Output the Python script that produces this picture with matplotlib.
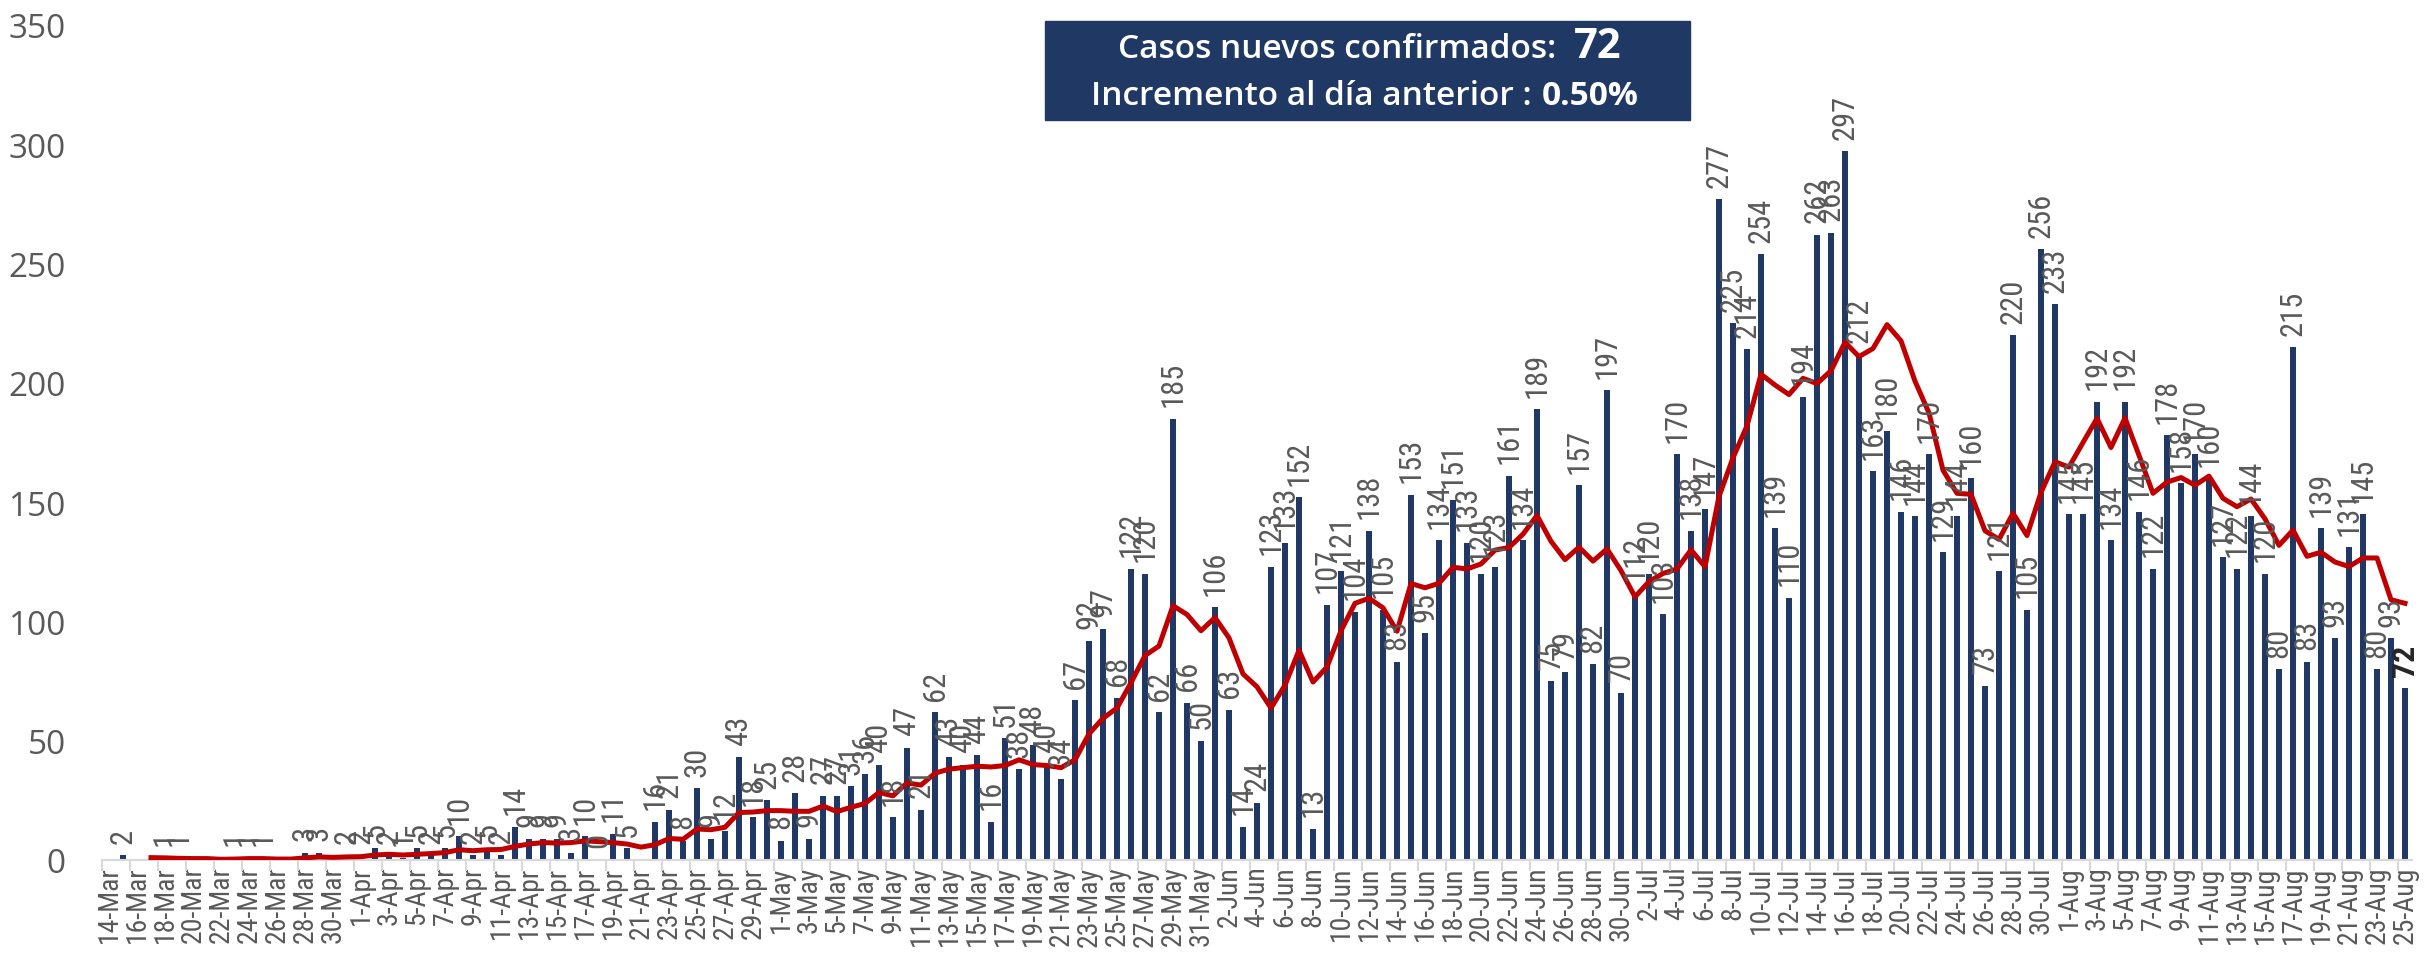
import numpy as np
import pandas as pd
import matplotlib.pyplot as plt
from matplotlib import font_manager
from matplotlib.patches import Rectangle

# daily categories 14-Mar .. 25-Aug
dates = pd.date_range("2020-03-14", "2020-08-25", freq="D")
labels = [f"{d.day}-{d.strftime('%b')}" for d in dates]

# new confirmed cases per day (None = no bar / no label)
cases = [None, 2, None, None, 1, 1, None, None, None, 1,
         1, 1, None, None, 3, 3, None, 2, 2, 5,
         2, 1, 5, 2, 5, 10, 2, 5, 2, 14,
         9, 9, 9, 3, 10, 0, 11, 5, None, 16,
         21, 8, 30, 9, 12, 43, 18, 25, 8, 28,
         9, 27, 27, 31, 36, 40, 18, 47, 21, 62,
         43, 40, 44, 16, 51, 38, 48, 40, 34, 67,
         92, 97, 68, 122, 120, 62, 185, 66, 50, 106,
         63, 14, 24, 123, 133, 152, 13, 107, 121, 104,
         138, 105, 83, 153, 95, 134, 151, 133, 120, 123,
         161, 134, 189, 75, 79, 157, 82, 197, 70, 112,
         120, 103, 170, 138, 147, 277, 225, 214, 254, 139,
         110, 194, 262, 263, 297, 212, 163, 180, 146, 144,
         170, 129, 144, 160, 73, 121, 220, 105, 256, 233,
         145, 145, 192, 134, 192, 146, 122, 178, 158, 170,
         160, 127, 122, 144, 120, 80, 215, 83, 139, 93,
         131, 145, 80, 93, 72]

# red trend line (7-day average)
avg_7d = [None, None, None, 1.0, 0.9, 0.7, 0.6, 0.6, 0.3, 0.4,
          0.6, 0.6, 0.4, 0.4, 0.9, 1.3, 1.1, 1.3, 1.4, 2.1,
          2.4, 2.1, 2.4, 2.7, 3.1, 4.3, 3.9, 4.3, 4.4, 5.7,
          6.7, 7.3, 7.1, 7.3, 8.0, 7.7, 7.3, 6.7, 5.4, 6.4,
          9.0, 8.7, 13.0, 12.7, 13.7, 19.9, 20.1, 20.7, 20.7, 20.4,
          20.4, 22.6, 20.3, 22.1, 23.7, 28.3, 26.9, 32.3, 31.4, 36.4,
          38.1, 38.7, 39.3, 39.0, 39.6, 42.0, 40.0, 39.6, 38.7, 42.0,
          52.9, 59.4, 63.7, 74.3, 85.7, 89.7, 106.6, 102.9, 96.1, 101.6,
          93.1, 78.0, 72.6, 63.7, 73.3, 87.9, 74.6, 80.9, 96.1, 107.6,
          109.7, 105.7, 95.9, 115.9, 114.1, 116.0, 122.7, 122.0, 124.1, 129.9,
          131.0, 136.6, 144.4, 133.6, 125.9, 131.1, 125.3, 130.4, 121.3, 110.3,
          116.7, 120.1, 122.0, 130.0, 122.9, 152.4, 168.6, 182.0, 203.6, 199.1,
          195.1, 201.9, 199.7, 205.1, 217.0, 211.0, 214.4, 224.4, 217.6, 200.7,
          187.4, 163.4, 153.7, 153.3, 138.0, 134.4, 145.3, 136.0, 154.1, 166.9,
          164.7, 175.0, 185.1, 172.9, 185.3, 169.6, 153.7, 158.4, 160.3, 157.1,
          160.9, 151.6, 148.1, 151.3, 143.0, 131.9, 138.3, 127.3, 129.0, 124.9,
          123.0, 126.6, 126.6, 109.1, 107.6]

box_line1 = "Casos nuevos confirmados:"
box_value1 = "72"
box_line2 = "Incremento al día anterior :"
box_value2 = "0.50%"

installed = {f.name for f in font_manager.fontManager.ttflist}
narrow = "DejaVu Sans"
for name in ["Liberation Sans Narrow", "Roboto Condensed", "Open Sans Condensed"]:
    if name in installed:
        narrow = name
        break
wide = "Open Sans" if "Open Sans" in installed else "DejaVu Sans"

W, H = 2427, 954
fig = plt.figure(figsize=(W / 100, H / 100), dpi=100)
ax = fig.add_axes([102 / W, 1 - 861 / H, (2412 - 102) / W, (861 - 26) / H])

x = np.arange(len(labels))
heights = np.array([np.nan if v is None else v for v in cases], dtype=float)
avg = np.array([np.nan if v is None else v for v in avg_7d], dtype=float)

ax.bar(x, heights, width=0.43, color="#1F3864", zorder=2)
ax.plot(x, avg, color="#C00000", lw=3.6, zorder=3, solid_joinstyle="round")

for xi, v in zip(x, cases):
    if v is None:
        continue
    last = xi == x[-1]
    ax.annotate(str(v), (xi, v), xytext=(0, 9), textcoords="offset points",
                rotation=90, ha="center", va="bottom", family=narrow,
                fontsize=23 if last else 22,
                color="#262626" if last else "#595959",
                fontweight="bold" if last else "normal", zorder=4)

ax.set_xlim(-0.5, len(x) - 0.5)
ax.set_ylim(0, 350)
ax.set_yticks(range(0, 351, 50))
ax.set_xticks(x[::2])
ax.set_xticklabels(labels[::2], rotation=90, family=narrow, fontsize=20, color="#595959")
ax.set_xticks(np.arange(-0.5, len(x), 2), minor=True)
ax.tick_params(axis="x", which="major", length=0, pad=4)
ax.tick_params(axis="x", which="minor", length=8, color="#D9D9D9", width=1.5)
ax.tick_params(axis="y", length=0, pad=26, labelsize=24, labelcolor="#595959")
for lab in ax.get_yticklabels():
    lab.set_family(wide)

for s in ["top", "right", "left"]:
    ax.spines[s].set_visible(False)
ax.spines["bottom"].set_color("#D9D9D9")
ax.spines["bottom"].set_linewidth(1.5)

# info box
fig.patches.append(Rectangle((1045 / W, 1 - 121 / H), (1690 - 1045) / W, (121 - 22) / H,
                             transform=fig.transFigure, color="#1F3864", zorder=5))
fig.text(1556 / W, 1 - 50 / H, box_line1, ha="right", va="center", color="white",
         fontsize=24, family=wide, fontweight="semibold", zorder=6)
fig.text(1574 / W, 1 - 47 / H, box_value1, ha="left", va="center", color="white",
         fontsize=30, family=wide, fontweight="bold", zorder=6)
fig.text(1532 / W, 1 - 97 / H, box_line2, ha="right", va="center", color="white",
         fontsize=24, family=wide, fontweight="semibold", zorder=6)
fig.text(1542 / W, 1 - 97 / H, box_value2, ha="left", va="center", color="white",
         fontsize=24, family=wide, fontweight="bold", zorder=6)

fig.savefig("out.png", dpi=100)
